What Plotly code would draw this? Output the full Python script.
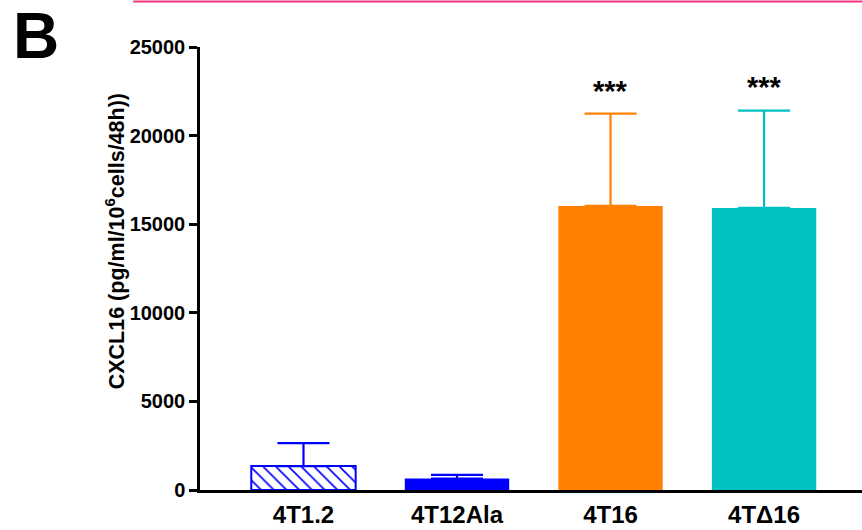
import plotly.graph_objects as go

categories = ["4T1.2", "4T12Ala", "4T16", "4T\u039416"]
means = [1350, 650, 16030, 15920]
upper = [2650, 850, 21240, 21410]
colors = ["#0000FF", "#0000FF", "#FF8000", "#00C0C0"]
sig_labels = ["", "", "***", "***"]
sig_y = [None, None, 22500, 22730]
y_ticks = [0, 5000, 10000, 15000, 20000, 25000]

FONT = "Arial, 'Liberation Sans', sans-serif"

fig = go.Figure()
for i, cat in enumerate(categories):
    hatched = i == 0
    marker = dict(
        color="white" if hatched else colors[i],
        line=dict(color=colors[i], width=2 if hatched else 0),
    )
    if hatched:
        marker["pattern"] = dict(shape="\\", fgcolor=colors[i], bgcolor="white",
                                 size=9, solidity=0.18, fillmode="replace")
    fig.add_trace(go.Bar(
        x=[i], y=[means[i]], width=0.68, marker=marker,
        error_y=dict(type="data", symmetric=False,
                     array=[upper[i] - means[i]], arrayminus=[0],
                     color=colors[i], thickness=2.2, width=26),
        showlegend=False,
    ))

for i, lab in enumerate(sig_labels):
    if lab:
        fig.add_annotation(x=i, y=sig_y[i], xref="x", yref="y", text=f"<b>{lab}</b>",
                           showarrow=False, yanchor="middle",
                           font=dict(family=FONT, size=29, color="black"))

fig.add_annotation(x=-0.128, y=0.562, xref="paper", yref="paper",
                   text="<b>CXCL16 (pg/ml/10<sup>6</sup>cells/48h))</b>",
                   textangle=-90, showarrow=False, xanchor="center", yanchor="middle",
                   font=dict(family=FONT, size=21.5, color="black"))
fig.add_annotation(x=-0.285, y=1.025, xref="paper", yref="paper", text="<b>B</b>",
                   showarrow=False, xanchor="left", yanchor="middle",
                   font=dict(family=FONT, size=64, color="black"))

fig.add_shape(type="line", xref="paper", yref="paper",
              x0=-0.101, x1=1.0, y0=1.1025, y1=1.1025,
              line=dict(color="#F0377F", width=2))

fig.update_layout(
    width=862, height=530,
    margin=dict(l=200, r=0, t=47, b=40),
    plot_bgcolor="white", paper_bgcolor="white",
    bargap=0.3,
    font=dict(family=FONT, color="black"),
    xaxis=dict(range=[-0.674, 3.638], tickmode="array",
               tickvals=list(range(len(categories))),
               ticktext=[f"<b>{c}</b>" for c in categories],
               tickfont=dict(family=FONT, size=24, color="black"),
               ticklabelstandoff=1, automargin=False,
               showline=True, linecolor="black", linewidth=2.5,
               ticks="", showgrid=False, zeroline=False, fixedrange=True),
    yaxis=dict(range=[0, 25000], tickmode="array", tickvals=y_ticks,
               ticktext=[f"<b>{v}</b>" for v in y_ticks],
               tickfont=dict(family=FONT, size=20, color="black"),
               automargin=False,
               showline=True, linecolor="black", linewidth=2.5,
               ticks="outside", ticklen=8, tickwidth=2.5, tickcolor="black",
               showgrid=False, zeroline=False, fixedrange=True),
)

fig.write_html("out.html")
